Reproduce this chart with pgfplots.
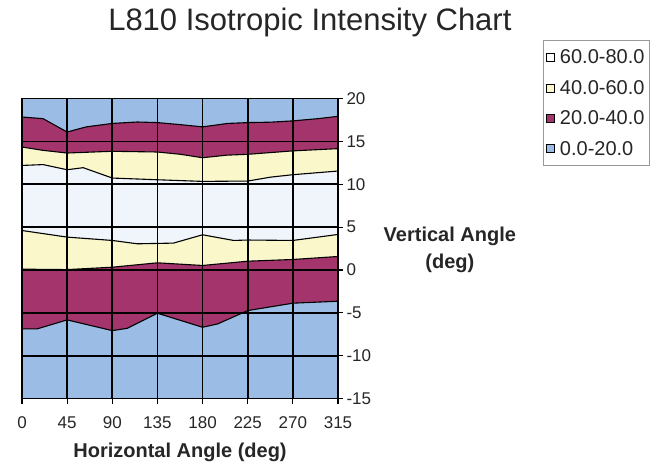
\documentclass[border=0pt]{standalone}
\usepackage{pgfplots}
\pgfplotsset{compat=1.18}
\usepackage{fontspec}
\setmainfont{Liberation Sans}
\definecolor{cblue}{RGB}{155,188,228}
\definecolor{cpurple}{RGB}{163,52,108}
\definecolor{cyellow}{RGB}{250,248,202}
\definecolor{cwhite}{RGB}{240,245,251}
\begin{document}
\begin{tikzpicture}
\path[use as bounding box] (0,0) rectangle (657pt,470pt);
\begin{axis}[
  at={(22pt,71.4pt)}, anchor=south west,
  scale only axis, width=316pt, height=300pt,
  xmin=0, xmax=315, ymin=-15, ymax=20,
  xtick={0,45,...,315}, ytick={-15,-10,...,20},
  xtick pos=bottom, ytick pos=right, yticklabel pos=right,
  tick align=outside, major tick length=5pt,
  tick style={black, line width=1.2pt},
  grid=major, grid style={black, line width=1.8pt},
  axis line style={black, line width=1.8pt},
  axis on top,
  ticklabel style={font=\fontsize{17}{20}\selectfont, color=black!85},
  /pgf/number format/assume math mode=true,
  xticklabel style={yshift=-10pt},
  title={L810 Isotropic Intensity Chart},
  title style={at={(axis description cs:0.911,1.207)}, anchor=base,
    font=\fontsize{31}{36}\selectfont, color=black!85},
  xlabel={Horizontal Angle (deg)},
  xlabel style={at={(axis description cs:0.5,-0.195)}, anchor=base,
    font=\fontsize{20}{24}\selectfont\bfseries, color=black!85},
  ylabel={Vertical Angle\\(deg)},
  ylabel style={at={(axis description cs:1.354,0.497)}, anchor=center,
    rotate=-90, align=center, font=\fontsize{20}{27}\selectfont\bfseries, color=black!85},
  legend style={at={(1.987,1.194)}, anchor=north east, draw=black!40, line width=0.8pt,
    font=\fontsize{20}{24}\selectfont, row sep=11pt, inner xsep=3pt, inner ysep=7pt,
    cells={anchor=west}, text=black!85},
  legend image code/.code={\draw[#1,draw=black,line width=0.9pt] (0pt,-4pt) rectangle (8pt,4pt);
    \path (11pt,0pt);},
]
% 0-20 background
\addplot[fill=cblue, draw=none, forget plot] coordinates {(0,-15) (315,-15) (315,20) (0,20)} -- cycle;
% 20-40
\addplot[fill=cpurple, draw=black, line width=1.1pt, forget plot] coordinates {
  (0,17.85) (21,17.66) (45,16.1) (64,16.7) (90,17.1) (115,17.27) (135,17.2) (158,16.96)
  (180,16.7) (205,17.1) (225,17.2) (248,17.25) (270,17.4) (295,17.66) (315,17.93)
  (315,-3.64) (270,-3.87) (225,-4.73) (195,-6.29) (180,-6.68) (135,-5.04) (105,-6.8)
  (90,-7.07) (45,-5.82) (15,-6.87) (0,-6.87)} -- cycle;
% 40-60
\addplot[fill=cyellow, draw=black, line width=1.1pt, forget plot] coordinates {
  (0,14.35) (21,13.96) (45,13.65) (78,13.8) (90,13.85) (135,13.77) (158,13.5) (180,13.1)
  (204,13.4) (225,13.5) (270,13.9) (315,14.16)
  (315,1.58) (270,1.23) (225,1.03) (180,0.53) (135,0.84) (90,0.33) (45,0.05) (0,0.1)} -- cycle;
% 60-80
\addplot[fill=cwhite, draw=black, line width=1.1pt, forget plot] coordinates {
  (0,12.2) (21,12.3) (45,11.7) (61,11.94) (90,10.73) (135,10.53) (180,10.34) (225,10.38)
  (248,10.84) (270,11.12) (315,11.55)
  (315,4.15) (270,3.45) (225,3.5) (211,3.45) (180,4.11) (151,3.14) (115,3.06) (90,3.45)
  (45,3.84) (0,4.61)} -- cycle;
\addlegendimage{fill=white}
\addlegendentry{60.0-80.0}
\addlegendimage{fill=cyellow}
\addlegendentry{40.0-60.0}
\addlegendimage{fill=cpurple}
\addlegendentry{20.0-40.0}
\addlegendimage{fill=cblue}
\addlegendentry{0.0-20.0}
\end{axis}
\end{tikzpicture}
\end{document}
